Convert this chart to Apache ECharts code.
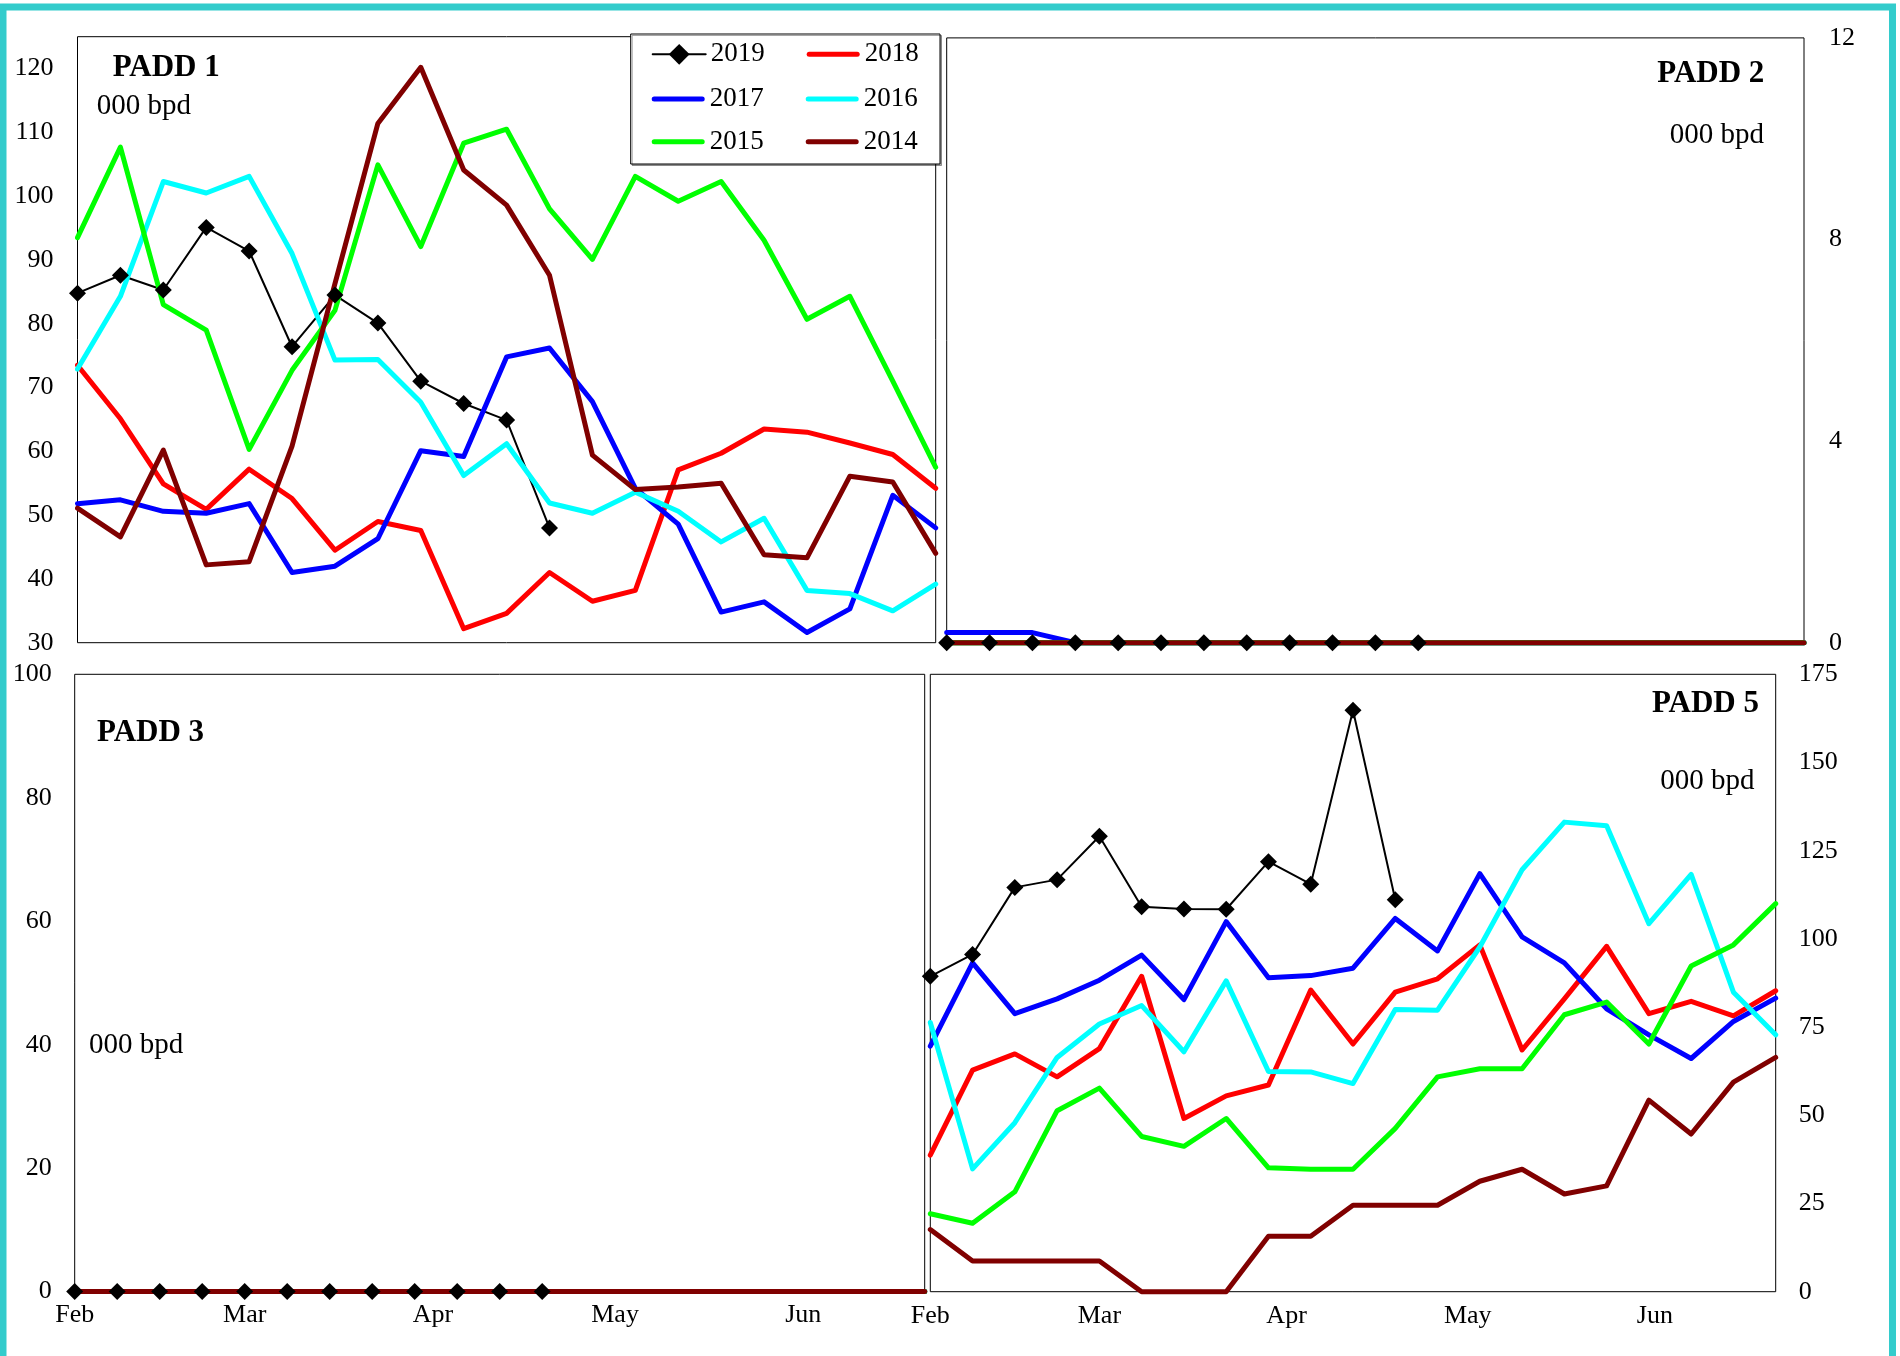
<!DOCTYPE html>
<html>
<head>
<meta charset="utf-8">
<script src="https://cdn.jsdelivr.net/npm/echarts@6/dist/echarts.min.js"></script>
<style>
html,body{margin:0;padding:0;background:#fff;}
#chart{width:1900px;height:1356px;}
</style>
</head>
<body>
<div id="chart"></div>
<script>
// ---------- data ----------
const weeks = ['2019-02-01','2019-02-08','2019-02-15','2019-02-22','2019-03-01','2019-03-08','2019-03-15','2019-03-22','2019-03-29','2019-04-05','2019-04-12','2019-04-19','2019-04-26','2019-05-03','2019-05-10','2019-05-17','2019-05-24','2019-05-31','2019-06-07','2019-06-14','2019-06-21'];
const monthStarts = ['2019-02-01','2019-03-01','2019-04-01','2019-05-01','2019-06-01'];
const monthLabels = ['Feb','Mar','Apr','May','Jun'];
const years = ['2019','2018','2017','2016','2015','2014'];

// PADD 1
const p1_2019 = [84.8, 87.6, 85.3, 95.1, 91.4, 76.4, 84.5, 80.1, 71.0, 67.5, 64.9, 48.0];
const p1_2018 = [73.5, 65.1, 54.9, 50.9, 57.2, 52.6, 44.5, 49.0, 47.6, 32.2, 34.6, 41.0, 36.5, 38.2, 57.1, 59.7, 63.5, 63.0, 61.3, 59.5, 54.2];
const p1_2017 = [51.8, 52.4, 50.6, 50.3, 51.8, 41.0, 42.0, 46.3, 60.1, 59.2, 74.8, 76.2, 67.8, 54.2, 48.6, 34.8, 36.4, 31.6, 35.3, 53.1, 48.0];
const p1_2016 = [72.9, 84.3, 102.3, 100.5, 103.1, 91.0, 74.3, 74.4, 67.7, 56.2, 61.2, 51.9, 50.3, 53.6, 50.6, 45.8, 49.5, 38.2, 37.7, 35.0, 39.2];
const p1_2015 = [93.5, 107.7, 83.0, 79.0, 60.3, 72.7, 82.1, 104.9, 92.1, 108.3, 110.5, 98.0, 90.1, 103.1, 99.2, 102.3, 93.1, 80.7, 84.3, 71.0, 57.5];
const p1_2014 = [51.1, 46.6, 60.2, 42.2, 42.7, 60.8, 86.3, 111.4, 120.2, 104.1, 98.6, 87.6, 59.4, 54.0, 54.4, 55.0, 43.8, 43.3, 56.1, 55.2, 44.0];

// PADD 2
const p2_2019 = [0, 0, 0, 0, 0, 0, 0, 0, 0, 0, 0, 0];
const p2_2018 = [0, 0, 0, 0, 0, 0, 0, 0, 0, 0, 0, 0, 0, 0, 0, 0, 0, 0, 0, 0, 0];
const p2_2017 = [0.2, 0.2, 0.2, 0, 0, 0, 0, 0, 0, 0, 0, 0, 0, 0, 0, 0, 0, 0, 0, 0, 0];
const p2_2016 = [0, 0, 0, 0, 0, 0, 0, 0, 0, 0, 0, 0, 0, 0, 0, 0, 0, 0, 0, 0, 0];
const p2_2015 = [0, 0, 0, 0, 0, 0, 0, 0, 0, 0, 0, 0, 0, 0, 0, 0, 0, 0, 0, 0, 0];
const p2_2014 = [0, 0, 0, 0, 0, 0, 0, 0, 0, 0, 0, 0, 0, 0, 0, 0, 0, 0, 0, 0, 0];

// PADD 3
const p3_2019 = [0, 0, 0, 0, 0, 0, 0, 0, 0, 0, 0, 0];
const p3_2018 = [0, 0, 0, 0, 0, 0, 0, 0, 0, 0, 0, 0, 0, 0, 0, 0, 0, 0, 0, 0, 0];
const p3_2017 = [0, 0, 0, 0, 0, 0, 0, 0, 0, 0, 0, 0, 0, 0, 0, 0, 0, 0, 0, 0, 0];
const p3_2016 = [0, 0, 0, 0, 0, 0, 0, 0, 0, 0, 0, 0, 0, 0, 0, 0, 0, 0, 0, 0, 0];
const p3_2015 = [0, 0, 0, 0, 0, 0, 0, 0, 0, 0, 0, 0, 0, 0, 0, 0, 0, 0, 0, 0, 0];
const p3_2014 = [0, 0, 0, 0, 0, 0, 0, 0, 0, 0, 0, 0, 0, 0, 0, 0, 0, 0, 0, 0, 0];

// PADD 5
const p5_2019 = [89.4, 95.6, 114.6, 116.8, 129.1, 109.1, 108.5, 108.4, 121.9, 115.5, 164.8, 111.1];
const p5_2018 = [38.7, 62.8, 67.4, 60.9, 68.9, 89.4, 49.1, 55.5, 58.6, 85.5, 70.2, 84.9, 88.7, 98.3, 68.5, 83.0, 97.9, 78.8, 82.3, 78.2, 85.3];
const p5_2017 = [69.6, 93.2, 78.8, 83.0, 88.3, 95.4, 82.8, 104.9, 89.0, 89.6, 91.7, 105.8, 96.6, 118.5, 100.6, 93.2, 80.2, 72.8, 66.1, 76.6, 83.2];
const p5_2016 = [76.3, 34.8, 47.9, 66.4, 75.9, 81.1, 68.0, 88.1, 62.4, 62.3, 59.0, 80.0, 79.8, 97.7, 119.6, 133.1, 132.1, 104.3, 118.3, 84.9, 72.8];
const p5_2015 = [22.1, 19.4, 28.3, 51.3, 57.7, 44.0, 41.2, 49.1, 35.1, 34.7, 34.7, 46.3, 60.9, 63.2, 63.2, 78.5, 82.1, 70.2, 92.3, 98.3, 110.0];
const p5_2014 = [17.6, 8.7, 8.7, 8.7, 8.7, 0, 0, 0, 15.7, 15.7, 24.5, 24.5, 24.5, 31.3, 34.7, 27.7, 30.0, 54.3, 44.7, 59.4, 66.4];

const panelTitles = ['PADD 1', 'PADD 2', 'PADD 3', 'PADD 5'];
const unitLabel = '000 bpd';

// ---------- styling ----------
const FONT = 'Liberation Serif';
const colors = {'2019':'#000000','2018':'#FF0000','2017':'#0000FF','2016':'#00FFFF','2015':'#00FF00','2014':'#800000'};
const panels = [
  {data:[p1_2019,p1_2018,p1_2017,p1_2016,p1_2015,p1_2014], grid:{left:77.5, top:36.7, width:858.2, height:606}, y:{min:30,max:125,interval:10,pos:'left',margin:24}, xLabels:false},
  {data:[p2_2019,p2_2018,p2_2017,p2_2016,p2_2015,p2_2014], grid:{left:946.7, top:37.9, width:857.3, height:604.8}, y:{min:0,max:12,interval:4,pos:'right',margin:25}, xLabels:false},
  {data:[p3_2019,p3_2018,p3_2017,p3_2016,p3_2015,p3_2014], grid:{left:74.7, top:674.3, width:850, height:617.3}, y:{min:0,max:100,interval:20,pos:'left',margin:23}, xLabels:true},
  {data:[p5_2019,p5_2018,p5_2017,p5_2016,p5_2015,p5_2014], grid:{left:930.3, top:674.3, width:845.4, height:617.4}, y:{min:0,max:175,interval:25,pos:'right',margin:23}, xLabels:true}
];

// day offset of a date from the first week (axis is days since Feb 1)
const DAY = 86400000;
const t0 = Date.UTC(2019, 1, 1);
const dayOf = s => { const [y, m, d] = s.split('-').map(Number); return Math.round((Date.UTC(y, m - 1, d) - t0) / DAY); };
const weekX = weeks.map(dayOf);
const monthVals = monthStarts.map(dayOf);

const grids = [], xAxes = [], yAxes = [], series = [];
panels.forEach((p, pi) => {
  grids.push(Object.assign({show:true, borderColor:'#000', borderWidth:1, backgroundColor:'transparent', containLabel:false, outerBoundsMode:'none'}, p.grid));
  xAxes.push({
    type:'value', gridIndex:pi, min:weekX[0], max:weekX[weekX.length - 1],
    axisLine:{show:false}, axisTick:{show:false}, splitLine:{show:false},
    axisLabel:{show:p.xLabels, customValues:monthVals, margin:11, fontFamily:FONT, fontSize:26, color:'#000', hideOverlap:false,
      showMinLabel:true, showMaxLabel:true,
      formatter: v => { const k = monthVals.indexOf(Math.round(v)); return k >= 0 ? monthLabels[k] : ''; }}
  });
  yAxes.push({
    type:'value', gridIndex:pi, min:p.y.min, max:p.y.max, interval:p.y.interval, position:p.y.pos,
    axisLine:{show:false}, axisTick:{show:false}, splitLine:{show:false},
    axisLabel:{margin:p.y.margin, fontFamily:FONT, fontSize:26, color:'#000', showMaxLabel: (p.y.max % p.y.interval === 0)}
  });
  years.forEach((yr, si) => {
    const vals = p.data[si];
    const is19 = yr === '2019';
    series.push({
      name: yr, type:'line', xAxisIndex:pi, yAxisIndex:pi,
      data: vals.map((v, i) => [weekX[i], v]),
      symbol: is19 ? 'diamond' : 'none', symbolSize: 17, showSymbol: is19,
      itemStyle:{color:colors[yr]},
      lineStyle:{color:colors[yr], width: is19 ? 2 : 5, cap:'round', join:'round'},
      clip:false, emphasis:{disabled:true}, silent:true, z: 2
    });
  });
});

// legend: 2019 keeps the line + diamond icon, the others a plain thick line
const lineIcon = 'path://M2.5,0 L50.5,0 A2.5,2.5 0 0 1 50.5,5 L2.5,5 A2.5,2.5 0 0 1 2.5,0 Z';
const legendRows = [['2019','2018'],['2017','2016'],['2015','2014']];
const legendTops = [39.3, 84, 126.7];
const legends = legendRows.map((row, ri) => ({
  data: row.map(n => n === '2019' ? {name:n} : {name:n, icon:lineIcon, itemStyle:{color:colors[n]}}),
  orient:'horizontal', left:651.7, top:legendTops[ri], padding:0,
  itemWidth:53, itemHeight: ri === 0 ? 26 : 22, itemGap:42, selectedMode:false, z:20,
  textStyle:{fontFamily:FONT, fontSize:27, color:'#000', lineHeight:30}
}));

function txt(x, y, text, opts) {
  return {type:'text', x:x, y:y, z:30, style:Object.assign({text:text, fontFamily:FONT, fill:'#000', verticalAlign:'middle'}, opts)};
}

const graphics = [
  {type:'rect', shape:{x:3, y:7, width:1889.5, height:1365}, style:{fill:'none', stroke:'#33CCCC', lineWidth:7}, z:40},
  {type:'rect', shape:{x:630.7, y:34, width:309.3, height:130}, style:{fill:'#fff', stroke:'#000', lineWidth:1, shadowColor:'rgba(0,0,0,0.35)', shadowOffsetX:1.5, shadowOffsetY:1.5, shadowBlur:0}, z:15},
  txt(112.7, 67.5, panelTitles[0], {fontSize:31, fontWeight:'bold', align:'left'}),
  txt(96.7, 106.7, unitLabel, {fontSize:29, align:'left'}),
  txt(1764.3, 73.8, panelTitles[1], {fontSize:31, fontWeight:'bold', align:'right'}),
  txt(1764, 135, unitLabel, {fontSize:29, align:'right'}),
  txt(97, 732.8, panelTitles[2], {fontSize:31, fontWeight:'bold', align:'left'}),
  txt(89, 1045, unitLabel, {fontSize:29, align:'left'}),
  txt(1759, 704, panelTitles[3], {fontSize:31, fontWeight:'bold', align:'right'}),
  txt(1754.4, 781, unitLabel, {fontSize:29, align:'right'})
];

const chart = echarts.init(document.getElementById('chart'), null, {renderer:'canvas'});
chart.setOption({
  animation:false,
  backgroundColor:'#fff',
  grid: grids, xAxis: xAxes, yAxis: yAxes,
  legend: legends,
  series: series,
  graphic: graphics
});
</script>
</body>
</html>
